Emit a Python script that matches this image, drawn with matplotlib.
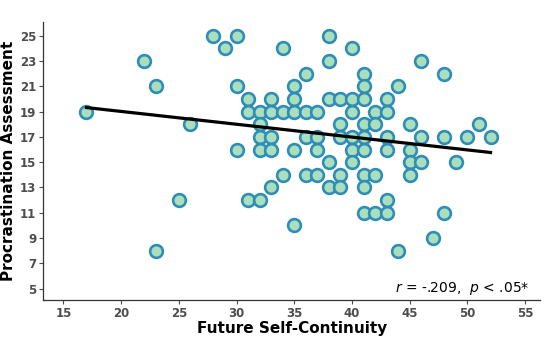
import numpy as np
import matplotlib
matplotlib.use("Agg")
import matplotlib.pyplot as plt

# future self-continuity (x) and procrastination score (y), read row by row
rows = {
    25: [28, 30, 38],
    24: [29, 34, 40],
    23: [22, 38, 46],
    22: [36, 41, 48],
    21: [23, 30, 35, 41, 44],
    20: [31, 33, 35, 38, 39, 40, 41, 43],
    19: [17, 31, 32, 33, 34, 35, 36, 37, 40, 42, 43],
    18: [26, 32, 39, 41, 42, 45, 51],
    17: [32, 33, 36, 37, 39, 40, 41, 43, 46, 48, 50, 52],
    16: [30, 32, 33, 35, 37, 40, 41, 43, 45],
    15: [38, 40, 45, 46, 49],
    14: [34, 36, 37, 39, 41, 42, 45],
    13: [33, 38, 39, 41],
    12: [25, 31, 32, 43],
    11: [41, 42, 43, 48],
    10: [35],
    9: [47],
    8: [23, 44],
}
fsc = np.array([x for y in rows for x in rows[y]], dtype=float)
proc = np.array([y for y in rows for x in rows[y]], dtype=float)

xticks = [15, 20, 25, 30, 35, 40, 45, 50, 55]
yticks = [5, 7, 9, 11, 13, 15, 17, 19, 21, 23, 25]

fig = plt.figure(figsize=(5.54, 3.42), dpi=100)
ax = fig.add_axes([0.078, 0.123, 0.897, 0.813])

ax.scatter(fsc, proc, s=84, facecolor="#a9dfbd", edgecolor="#2f8db8",
           linewidth=1.9, zorder=3)

slope, icpt = np.polyfit(fsc, proc, 1)
xl = np.array([fsc.min(), fsc.max()])
ax.plot(xl, icpt + slope * xl, color="black", lw=2.3, zorder=4)

ax.set_xlim(13.25, 56.3)
ax.set_ylim(4.1, 26.1)
ax.set_xticks(xticks)
ax.set_yticks(yticks)
ax.tick_params(colors="#4d4d4d", labelsize=8.5, length=3, width=0.8, pad=2)
for lab in ax.get_xticklabels() + ax.get_yticklabels():
    lab.set_fontweight("bold")
for s in ["top", "right"]:
    ax.spines[s].set_visible(False)
for s in ["left", "bottom"]:
    ax.spines[s].set_color("#333333")
    ax.spines[s].set_linewidth(0.9)

ax.set_xlabel("Future Self-Continuity", fontsize=11, fontweight="bold", labelpad=1)
ax.set_ylabel("Procrastination Assessment", fontsize=11, fontweight="bold", labelpad=3)

ax.text(55.4, 5.0, r"$\it{r}$ = -.209,  $\it{p}$ < .05*", ha="right", va="center",
        fontsize=10, color="black")

fig.savefig("out.png", dpi=100)
